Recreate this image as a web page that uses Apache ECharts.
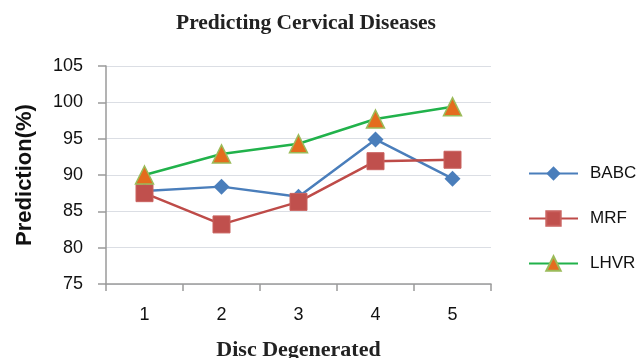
<!DOCTYPE html>
<html><head><meta charset="utf-8">
<script src="https://cdn.jsdelivr.net/npm/echarts@6/dist/echarts.min.js"></script>
<style>html,body{margin:0;padding:0;background:#fff}#c{width:642px;height:358px}</style>
</head><body><div id="c"></div>
<script>
const categories = ['1','2','3','4','5'];
const babc = [87.8, 88.4, 87.0, 94.9, 89.5];
const mrf = [87.5, 83.2, 86.3, 91.9, 92.1];
const lhvr = [90.0, 92.9, 94.3, 97.7, 99.4];
const seriesNames = ['BABC','MRF','LHVR'];

const chart = echarts.init(document.getElementById('c'), null, {renderer:'canvas'});
const sans = 'Liberation Sans, Arial, sans-serif';
const serif = 'Liberation Serif, Times New Roman, serif';
chart.setOption({
  animation:false,
  title:{text:'Predicting Cervical Diseases', left:301, top:7, textAlign:'center',
    textStyle:{fontFamily:serif, fontWeight:'bold', fontSize:21.5, color:'#222'}},
  grid:{left:106, top:66, width:385, height:218, outerBoundsMode:'none', containLabel:false},
  legend:{orient:'vertical', left:523, top:160, itemGap:28, itemWidth:49, itemHeight:18,
    textStyle:{fontFamily:sans, fontSize:17, color:'#111', padding:[0,0,0,7]},
    data:seriesNames},
  xAxis:{type:'category', data:categories, boundaryGap:true,
    name:'Disc Degenerated', nameLocation:'middle', nameGap:55,
    nameTextStyle:{fontFamily:serif, fontWeight:'bold', fontSize:22, color:'#222'},
    axisLine:{lineStyle:{color:'#9a9a9a', width:1.5}},
    axisTick:{show:true, length:7, lineStyle:{color:'#9a9a9a', width:1.5}},
    axisLabel:{fontFamily:sans, fontSize:18, color:'#111', margin:22}},
  yAxis:{type:'value', min:75, max:105, interval:5,
    name:'Prediction(%)', nameLocation:'middle', nameGap:70, nameRotate:90,
    nameTextStyle:{fontFamily:sans, fontWeight:'bold', fontSize:22, color:'#111'},
    axisLine:{show:true, lineStyle:{color:'#9a9a9a', width:1.5}},
    axisTick:{show:true, length:8, lineStyle:{color:'#9a9a9a', width:1.5}},
    axisLabel:{fontFamily:sans, fontSize:18, color:'#111', margin:23}},
  series:[
    {name:'BABC', type:'line', data:babc, symbol:'diamond', symbolSize:16,
      lineStyle:{color:'#4a7ebb', width:2.5}, itemStyle:{color:'#4a7ebb'}},
    {name:'MRF', type:'line', data:mrf, symbol:'rect', symbolSize:17,
      lineStyle:{color:'#be4b48', width:2.5}, itemStyle:{color:'#c0504d', borderColor:'#c9625f', borderWidth:1}},
    {name:'LHVR', type:'line', data:lhvr, symbol:'triangle', symbolSize:18,
      lineStyle:{color:'#21b24b', width:2.5}, itemStyle:{color:'#e46c1e', borderColor:'#9bbb59', borderWidth:1.5}}
  ]
});
</script></body></html>
